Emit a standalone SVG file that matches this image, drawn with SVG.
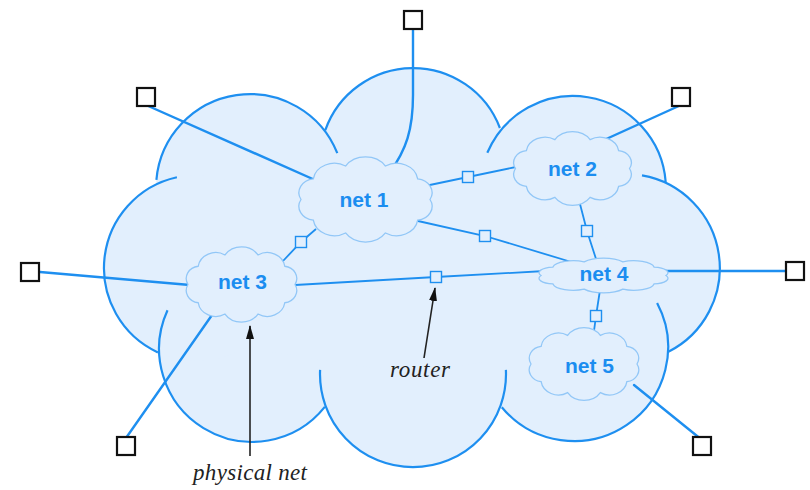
<svg xmlns="http://www.w3.org/2000/svg" xmlns:xlink="http://www.w3.org/1999/xlink" width="810" height="490" viewBox="0 0 810 490">
<style>
.bigfill{fill:#e2effd;stroke:none}
.bigline{fill:none;stroke:#1e8ff0;stroke-width:2.2}
.net{fill:#e2effd;stroke:#92c7f7;stroke-width:1.3;vector-effect:non-scaling-stroke}
.lbl{font-family:"Liberation Sans",Arial,sans-serif;font-weight:bold;font-size:21px;fill:#1b8df0;text-anchor:middle}
.conn{fill:none;stroke:#1e8ff0;stroke-width:2.4;stroke-linecap:round}
.rconn{fill:none;stroke:#1e8ff0;stroke-width:1.8}
.rt{fill:#e2effd;stroke:#1e8ff0;stroke-width:1.4}
.host{fill:#ffffff;stroke:#111;stroke-width:2.2}
.ann{font-family:"Liberation Serif","Times New Roman",serif;font-style:italic;font-size:23px;fill:#222;text-anchor:middle}
.arr{stroke:#222;stroke-width:1.6;fill:none}
</style>
<defs>
<path id="cl" class="net" d="M50,0 A12.7,12.7 0 0 1 40.45,18.81 A16.5,16.5 0 0 1 15.45,30.43 A18.5,18.5 0 0 1 -15.45,30.43 A16.5,16.5 0 0 1 -40.45,18.81 A12.7,12.7 0 0 1 -50,0 A12.7,12.7 0 0 1 -40.45,-18.81 A16.5,16.5 0 0 1 -15.45,-30.43 A18.5,18.5 0 0 1 15.45,-30.43 A16.5,16.5 0 0 1 40.45,-18.81 A12.7,12.7 0 0 1 50,0 Z"/>
<marker id="ah" viewBox="0 0 14 8" refX="13" refY="4" markerWidth="14" markerHeight="8" markerUnits="userSpaceOnUse" orient="auto">
<path d="M0,0 L14,4 L0,8 Z" fill="#111"/>
</marker>
</defs>

<g id="internet">
<g class="bigfill">
<circle cx="250" cy="188" r="94"/>
<circle cx="413" cy="161" r="93"/>
<circle cx="573" cy="189" r="93"/>
<circle cx="626" cy="268" r="94"/>
<circle cx="574" cy="347" r="94"/>
<circle cx="413" cy="374" r="93"/>
<circle cx="252" cy="349" r="93"/>
<circle cx="197" cy="268" r="93"/>
<polygon points="250,188 413,161 573,189 626,268 574,347 413,374 252,349 197,268"/>
</g>
<path class="bigline" d="M156.4,179.8 A94,94 0 0 1 337.3,153.2 M325.3,130.1 A93,93 0 0 1 499.9,128 M487.3,152.8 A93,93 0 0 1 665.7,182 M642,175.4 A94,94 0 0 1 668,352 M657.1,303 A94,94 0 0 1 501.8,407.2 M505.9,369.9 A93,93 0 1 1 320.1,369.9 M324.8,406.9 A93,93 0 0 1 167.5,310.3 M157.9,352.4 A93,93 0 0 1 176.9,177.2"/>
</g>

<g id="connectors">
<path class="conn" d="M413,29 L413,95 C413,130 406,150 390,172"/>
<line class="conn" x1="146" y1="105" x2="315" y2="180"/>
<line class="conn" x1="681" y1="105" x2="604" y2="140"/>
<line class="conn" x1="40" y1="272" x2="190" y2="285"/>
<line class="conn" x1="665" y1="271" x2="786" y2="271"/>
<line class="conn" x1="212" y1="315" x2="126" y2="438"/>
<line class="conn" x1="634" y1="385" x2="702" y2="440"/>
<polyline class="rconn" points="425,186 468,177 516,167"/>
<polyline class="rconn" points="418,221 485,236 578,264"/>
<polyline class="rconn" points="580,204 587,231 597,262"/>
<polyline class="rconn" points="316,229 301,242 283,261"/>
<polyline class="rconn" points="295,285 436,277 545,271"/>
<polyline class="rconn" points="600,290 596,316 594,331"/>
<line class="arr" x1="250" y1="456" x2="250" y2="326" marker-end="url(#ah)"/>
<line class="arr" x1="424" y1="358" x2="435" y2="288" marker-end="url(#ah)"/>
</g>

<g id="net1"><use xlink:href="#cl" href="#cl" transform="translate(365.5,199.5) scale(1.29,1.1)"/><text class="lbl" x="364" y="207">net 1</text></g>
<g id="net2"><use xlink:href="#cl" href="#cl" transform="translate(572.5,168.5) scale(1.14,0.95)"/><text class="lbl" x="572.5" y="176">net 2</text></g>
<g id="net3"><use xlink:href="#cl" href="#cl" transform="translate(241.5,284.5) scale(1.07,0.97)"/><text class="lbl" x="242.5" y="289">net 3</text></g>
<g id="net4"><use xlink:href="#cl" href="#cl" transform="translate(603.5,275.5) scale(1.25,0.45)"/><text class="lbl" x="604" y="281">net 4</text></g>
<g id="net5"><use xlink:href="#cl" href="#cl" transform="translate(584,364) scale(1.06,0.94)"/><text class="lbl" x="589.5" y="373">net 5</text></g>

<g id="routers">
<rect class="rt" x="462.5" y="171.5" width="11" height="11"/>
<rect class="rt" x="479.5" y="230.5" width="11" height="11"/>
<rect class="rt" x="581.5" y="225.5" width="11" height="11"/>
<rect class="rt" x="295.5" y="236.5" width="11" height="11"/>
<rect class="rt" x="430.5" y="271.5" width="11" height="11"/>
<rect class="rt" x="590.5" y="310.5" width="11" height="11"/>
</g>

<g id="hosts">
<rect class="host" x="404" y="11" width="18" height="18"/>
<rect class="host" x="137" y="88" width="18" height="18"/>
<rect class="host" x="672" y="88" width="18" height="18"/>
<rect class="host" x="21" y="263" width="18" height="18"/>
<rect class="host" x="786" y="262" width="18" height="18"/>
<rect class="host" x="117" y="437" width="18" height="18"/>
<rect class="host" x="693" y="437" width="18" height="18"/>
</g>

<g id="labels">
<text class="ann" x="250" y="480" textLength="114" lengthAdjust="spacing">physical net</text>
<text class="ann" x="420" y="377" textLength="60" lengthAdjust="spacing">router</text>
</g>
</svg>
